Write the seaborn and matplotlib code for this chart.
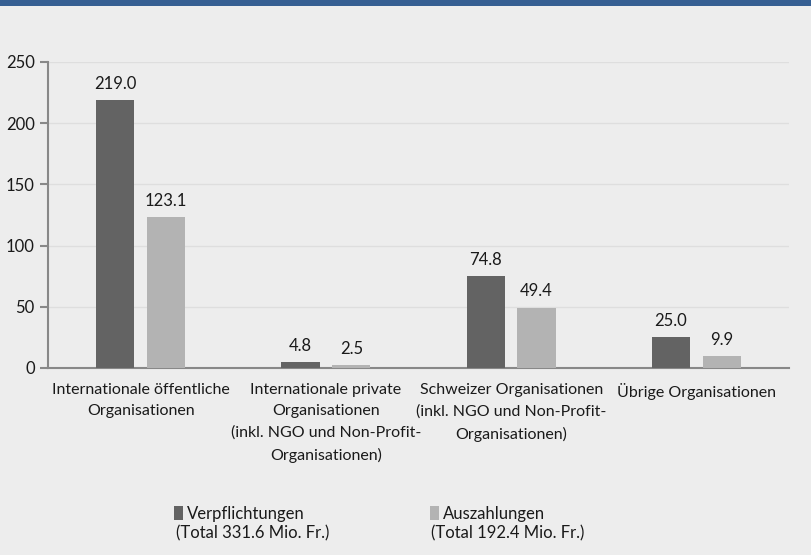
import pandas as pd
import seaborn as sns
import matplotlib.pyplot as plt
from matplotlib.patches import Rectangle

# chart values
categories = [
    "Internationale öffentliche\nOrganisationen",
    "Internationale private\nOrganisationen\n(inkl. NGO und Non-Profit-\nOrganisationen)",
    "Schweizer Organisationen\n(inkl. NGO und Non-Profit-\nOrganisationen)",
    "Übrige Organisationen",
]
verpflichtungen = [219.0, 4.8, 74.8, 25.0]
auszahlungen = [123.1, 2.5, 49.4, 9.9]
series_names = ["Verpflichtungen", "Auszahlungen"]
series_totals = ["(Total 331.6 Mio. Fr.)", "(Total 192.4 Mio. Fr.)"]
y_ticks = [0, 50, 100, 150, 200, 250]

dark = "#636363"
light = "#B3B3B3"
bg = "#EDEDED"
axis_grey = "#888888"
txt = "#1A1A1A"

sns.set_theme(style="white")
plt.rcParams["font.family"] = ["Lato", "DejaVu Sans"]
plt.rcParams["font.size"] = 11.5

df = pd.DataFrame({
    "Kategorie": categories * 2,
    "Wert": verpflichtungen + auszahlungen,
    "Serie": [series_names[0]] * 4 + [series_names[1]] * 4,
})

fig = plt.figure(figsize=(8.11, 5.55), dpi=100, facecolor=bg)
ax = fig.add_axes([48 / 811, 1 - 368 / 555, (789 - 48) / 811, (368 - 62) / 555])
ax.set_facecolor(bg)

sns.barplot(data=df, x="Kategorie", y="Wert", hue="Serie", palette=[dark, light],
            width=0.55, gap=0.25, saturation=1, linewidth=0, edgecolor="none",
            ax=ax, zorder=3)

for cont in ax.containers:
    ax.bar_label(cont, fmt="%.1f", padding=6, fontsize=12, color=txt)

# legend in two separate blocks, handle next to first line
handles, labels = ax.get_legend_handles_labels()
ax.get_legend().remove()
leg_x = [159 / 811, 415 / 811]
for h, lab, x in zip(handles, labels, leg_x):
    lg = fig.legend([h], [lab], loc="upper left", bbox_to_anchor=(x, 1 - 491 / 555),
                    frameon=False, handlelength=0.55, handleheight=0.9,
                    handletextpad=0.25, fontsize=12)
    for t in lg.get_texts():
        t.set_color(txt)
for tot, x in zip(series_totals, [176 / 811, 431 / 811]):
    fig.text(x, 1 - 533 / 555, tot, fontsize=12, color=txt, va="center")

ax.set_ylim(0, 250)
ax.set_xlim(-0.5, 3.5)
ax.set_yticks(y_ticks)
ax.set_xlabel("")
ax.set_ylabel("")
ax.yaxis.grid(True, color="#DEDEDE", linewidth=1, zorder=0)
ax.set_axisbelow(True)

ax.set_xticks([-0.5, 0.5, 1.5, 2.5, 3.5], minor=True)
ax.tick_params(axis="x", which="major", length=0, pad=10.5, labelsize=11.5, colors=txt)
ax.tick_params(axis="x", which="minor", length=5, width=1.5, color=axis_grey, direction="out")
ax.tick_params(axis="y", length=6, width=1.5, color=axis_grey, direction="out",
               labelsize=12, labelcolor=txt, left=True)
for lbl in ax.get_xticklabels():
    lbl.set_linespacing(1.68)

sns.despine(ax=ax, top=True, right=True)
for s in ["left", "bottom"]:
    ax.spines[s].set_color(axis_grey)
    ax.spines[s].set_linewidth(1.5)

# blue header strip at the top
fig.patches.append(Rectangle((0, 1 - 6 / 555), 1, 6 / 555, transform=fig.transFigure,
                             facecolor="#365F92", edgecolor="none"))

fig.savefig("out.png", dpi=100, facecolor=bg)
